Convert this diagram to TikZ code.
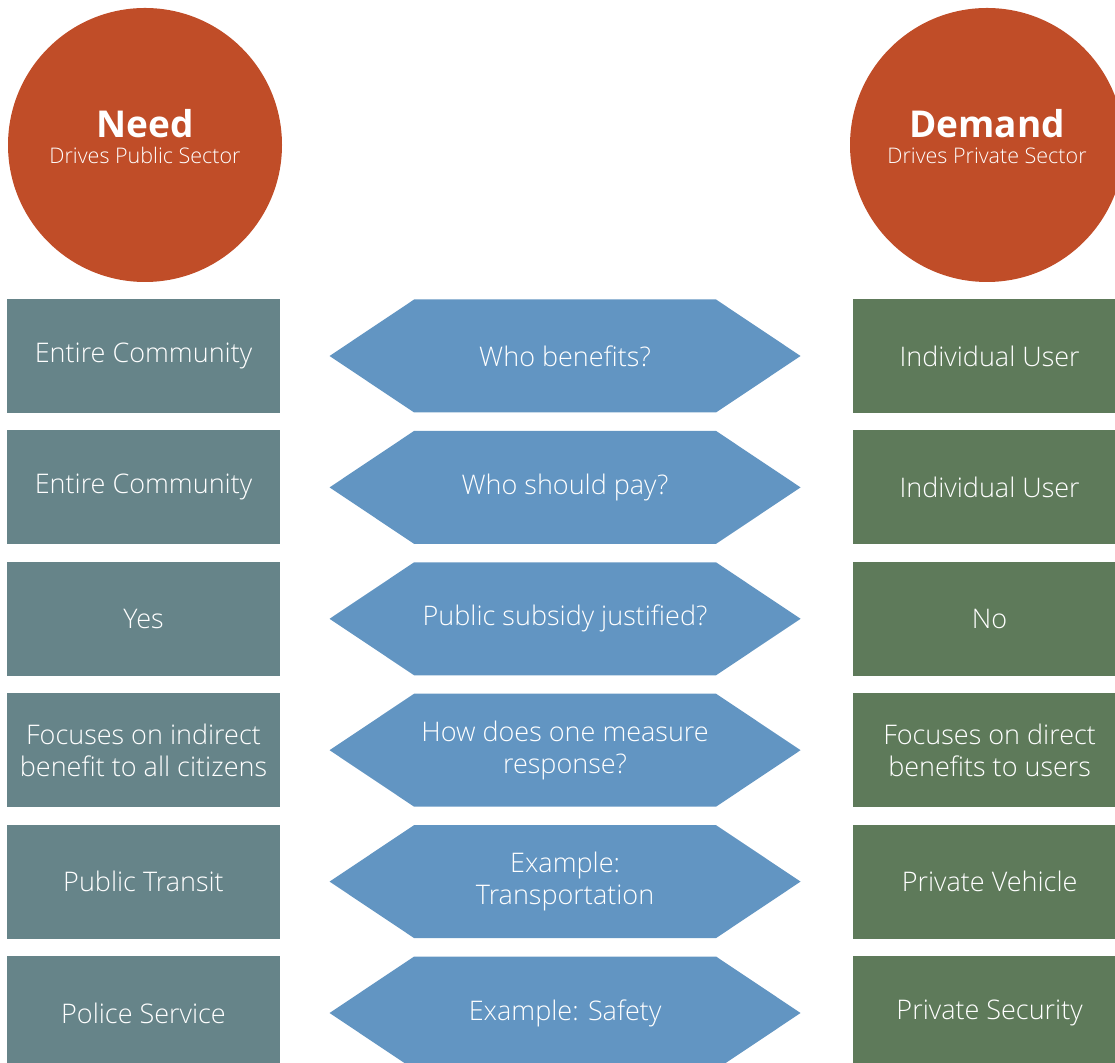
\documentclass[tikz,border=0pt]{standalone}
\usepackage{fontspec}
\IfFontExistsTF{Open Sans Light}{\setmainfont{Open Sans Light}}{\setmainfont{Open Sans}}
\newfontfamily\headfont{Open Sans}
\usetikzlibrary{shapes, positioning}
\definecolor{sectorred}{HTML}{C04D28}
\definecolor{publicgrey}{HTML}{668489}
\definecolor{privategreen}{HTML}{5E7A5A}
\definecolor{askblue}{HTML}{6295C2}
\tikzstyle{sector} = [circle, fill=sectorred, minimum size=274pt, inner sep=0pt]
\tikzstyle{cell} = [rectangle, minimum width=273pt, minimum height=114pt, inner sep=0pt,
  text=white, align=center, font=\fontsize{27}{32}\selectfont]
\tikzstyle{pubbox} = [cell, fill=publicgrey]
\tikzstyle{privbox} = [cell, fill=privategreen]
\tikzstyle{ask} = [signal, signal to=west and east, signal pointer angle=67.5,
  fill=askblue, minimum width=471pt, minimum height=113pt, inner sep=0pt,
  text=white, align=center, font=\fontsize{27}{32}\selectfont]

\begin{document}
\begin{tikzpicture}[x=1pt, y=1pt, node distance=17pt]
    \useasboundingbox (0,0) rectangle (1115,1062);
    % the two drivers
    \node[sector] (need) at (145,917) {};
    \node[anchor=base, text=white, font=\headfont\fontsize{37}{37}\selectfont\bfseries]
        at ([yshift=7pt]need.center) {Need};
    \node[anchor=base, text=white, font=\fontsize{21.5}{24}\selectfont]
        at ([yshift=-19pt]need.center) {Drives Public Sector};
    \node[sector] (demand) at (987,917) {};
    \node[anchor=base, text=white, font=\headfont\fontsize{37}{37}\selectfont\bfseries]
        at ([yshift=7pt]demand.center) {Demand};
    \node[anchor=base, text=white, font=\fontsize{21.5}{24}\selectfont]
        at ([yshift=-19pt]demand.center) {Drives Private Sector};
    % public column
    \node[pubbox] (pub1) at (143.5,706) {Entire Community};
    \node[pubbox, below=of pub1] (pub2) {Entire Community};
    \node[pubbox, below=of pub2] (pub3) {Yes};
    \node[pubbox, below=of pub3] (pub4) {Focuses on indirect\\benefit to all citizens};
    \node[pubbox, below=of pub4] (pub5) {Public Transit};
    \node[pubbox, below=of pub5] (pub6) {Police Service};
    % questions
    \node[ask, right=49pt of pub1] (ask1) {Who benefits?};
    \node[ask, right=49pt of pub2] (ask2) {Who should pay?};
    \node[ask, right=49pt of pub3] (ask3) {Public subsidy justified?};
    \node[ask, right=49pt of pub4] (ask4) {How does one measure\\response?};
    \node[ask, right=49pt of pub5] (ask5) {Example:\\Transportation};
    \node[ask, right=49pt of pub6] (ask6) {Example: Safety};
    % private column
    \node[privbox, right=52pt of ask1] (priv1) {Individual User};
    \node[privbox, right=52pt of ask2] (priv2) {Individual User};
    \node[privbox, right=52pt of ask3] (priv3) {No};
    \node[privbox, right=52pt of ask4] (priv4) {Focuses on direct\\benefits to users};
    \node[privbox, right=52pt of ask5] (priv5) {Private Vehicle};
    \node[privbox, right=52pt of ask6] (priv6) {Private Security};
\end{tikzpicture}
\end{document}
